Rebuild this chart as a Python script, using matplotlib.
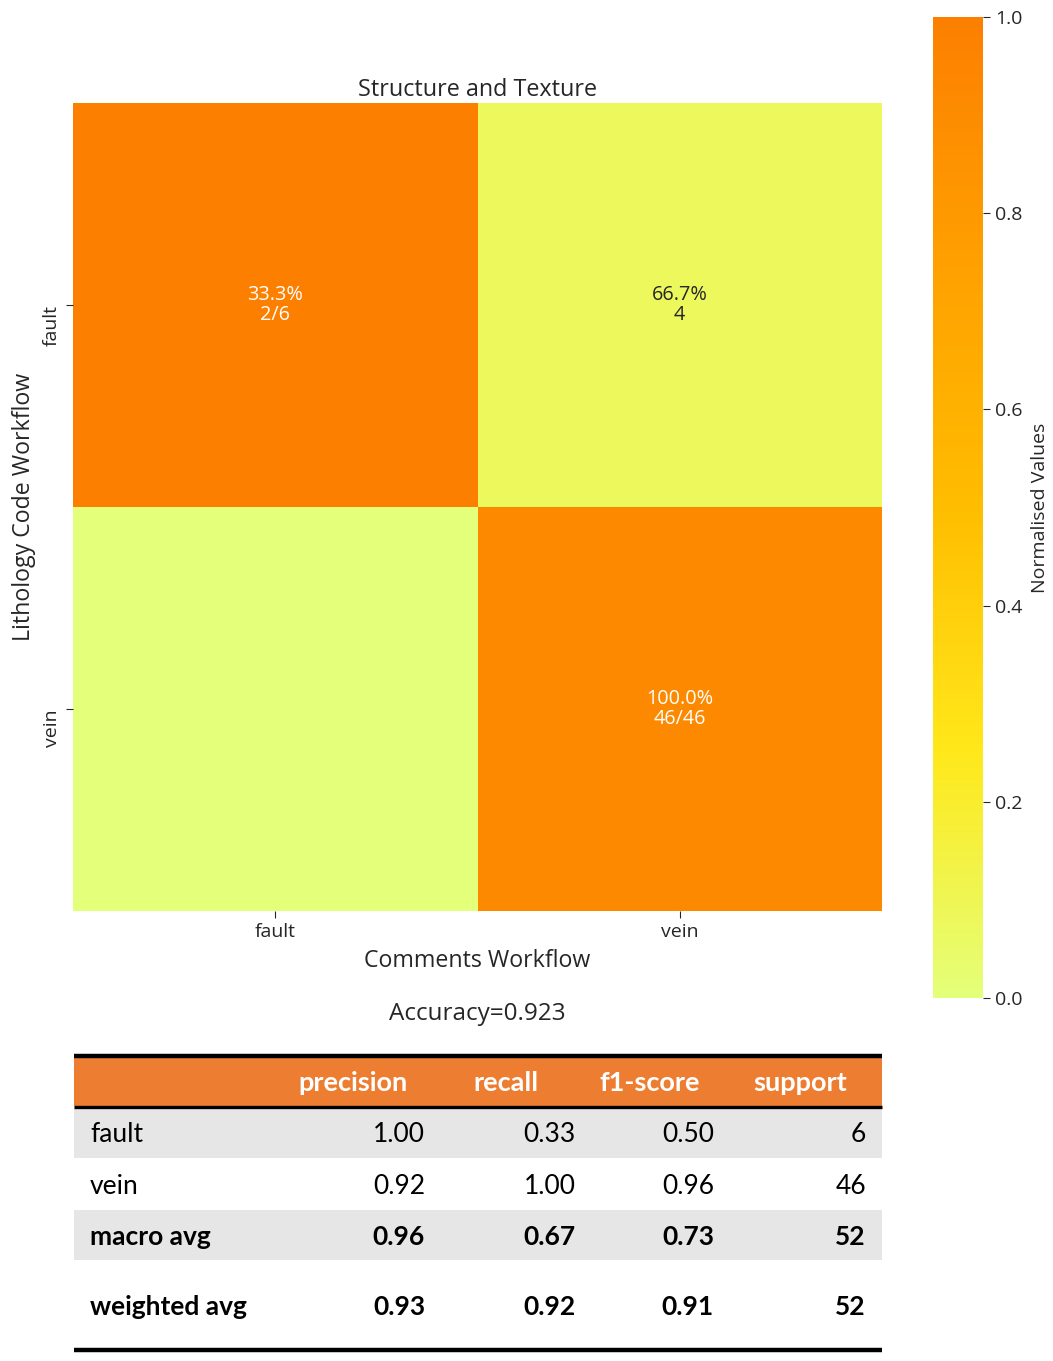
import matplotlib
matplotlib.use("Agg")
import matplotlib.pyplot as plt
from matplotlib.patches import Rectangle
import numpy as np

# ---- data ----
labels = ["fault", "vein"]
norm_values = [[1.00, 0.08],
               [0.00, 0.92]]
cell_pct = [["33.3%", "66.7%"], ["", "100.0%"]]
cell_cnt = [["2/6", "4"], ["", "46/46"]]
accuracy = 0.923

table_header = ["precision", "recall", "f1-score", "support"]
row_names = ["fault", "vein", "macro avg", "weighted avg"]
precision = ["1.00", "0.92", "0.96", "0.93"]
recall = ["0.33", "1.00", "0.67", "0.92"]
f1 = ["0.50", "0.96", "0.73", "0.91"]
support = ["6", "46", "52", "52"]

W, H = 1053, 1361
fig = plt.figure(figsize=(W / 100, H / 100), dpi=100)
plt.rcParams['font.family'] = ['Open Sans', 'DejaVu Sans']

def fx(px):
    return px / W

def fy(py):
    return 1 - py / H

# ---- heatmap ----
ax = fig.add_axes([fx(73), fy(911), fx(882) - fx(73), fy(103) - fy(911)])
cb_ax = fig.add_axes([fx(933), fy(998), fx(983) - fx(933), fy(17) - fy(998)])
data = np.array(norm_values)
cmap = plt.get_cmap("Wistia")
mesh = ax.pcolormesh(data, cmap=cmap, vmin=0, vmax=1)
ax.set_xlim(0, 2)
ax.set_ylim(2, 0)
for s in ax.spines.values():
    s.set_visible(False)
txtcol = "#262626"
for i in range(2):
    for j in range(2):
        if cell_pct[i][j]:
            c = "white" if data[i, j] > 0.5 else txtcol
            ax.text(j + 0.5, i + 0.5, cell_pct[i][j] + "\n" + cell_cnt[i][j],
                    ha="center", va="center", fontsize=14.3, color=c, linespacing=0.95)
ax.set_xticks([0.5, 1.5])
ax.set_xticklabels(labels, fontsize=14, color=txtcol)
ax.set_yticks([0.5, 1.5])
ax.set_yticklabels(labels, fontsize=14, color=txtcol, rotation=90, va="top")
ax.tick_params(length=5, color=txtcol)
ax.set_title("Structure and Texture", fontsize=16.8, color=txtcol, pad=5)
ax.set_xlabel("Comments Workflow", fontsize=16.7, color=txtcol, labelpad=6)
ax.set_ylabel("Lithology Code Workflow", fontsize=16.7, color=txtcol, labelpad=5)

cb = fig.colorbar(mesh, cax=cb_ax)
cb.outline.set_visible(False)
cb.set_ticks([0.0, 0.2, 0.4, 0.6, 0.8, 1.0])
cb_ax.tick_params(labelsize=14, colors=txtcol, length=5)
cb.set_label("Normalised Values", fontsize=14, color=txtcol, labelpad=6)

fig.text(fx(477), fy(1014), "Accuracy=%.3f" % accuracy, ha="center", va="center",
         fontsize=17.5, color=txtcol)

# ---- table ----
tax = fig.add_axes([0, 0, 1, 1])
tax.set_xlim(0, W)
tax.set_ylim(H, 0)
tax.axis("off")
x0, x1 = 74, 882
tfont = ['Lato', 'DejaVu Sans']
tax.add_patch(Rectangle((x0, 1057), x1 - x0, 49, color="#ED7D31", lw=0))
row_tops = [1108, 1158, 1210, 1260]
row_bots = [1158, 1210, 1260, 1348]
row_fill = ["#E7E6E6", "white", "#E7E6E6", "white"]
for t, b, c in zip(row_tops, row_bots, row_fill):
    tax.add_patch(Rectangle((x0, t), x1 - x0, b - t, color=c, lw=0))
tax.plot([x0, x1], [1055.5, 1055.5], color="black", lw=3.2, solid_capstyle="butt")
tax.plot([x0, x1], [1106.5, 1106.5], color="black", lw=2.4, solid_capstyle="butt")
tax.plot([x0, x1], [1349.5, 1349.5], color="black", lw=3.2, solid_capstyle="butt")

hdr_x = [353, 506, 650, 800]
for hx, h in zip(hdr_x, table_header):
    tax.text(hx, 1083, h, ha="center", va="center", fontsize=19.5, color="white",
             fontweight="bold", family=tfont)
val_x = [425, 576, 714, 866]
row_y = [1134, 1186, 1237, 1307]
cols = [precision, recall, f1, support]
for r, (name, ry) in enumerate(zip(row_names, row_y)):
    wt = "bold" if r >= 2 else "normal"
    tax.text(90, ry, name, ha="left", va="center", fontsize=19, color="black",
             fontweight=wt, family=tfont)
    for vx, col in zip(val_x, cols):
        tax.text(vx, ry, col[r], ha="right", va="center", fontsize=19, color="black",
                 fontweight=wt, family=tfont)

fig.savefig("out.png", dpi=100)
